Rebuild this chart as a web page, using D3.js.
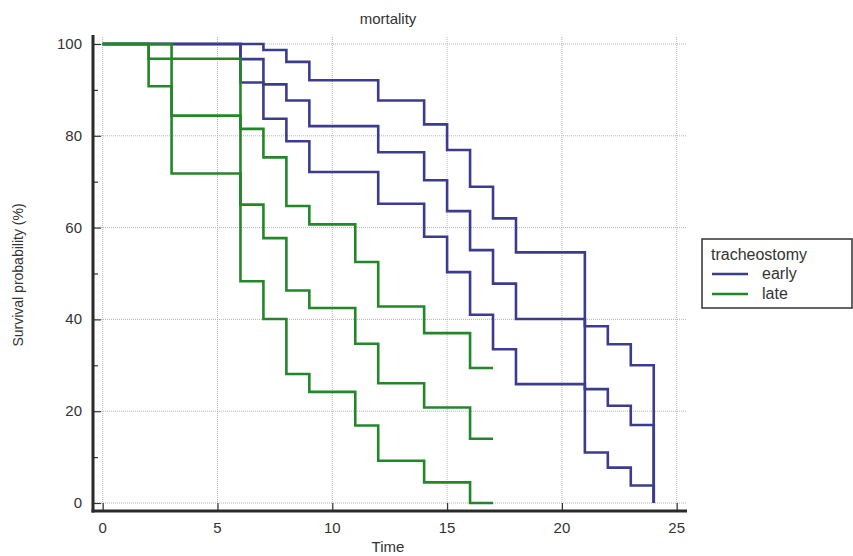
<!DOCTYPE html>
<html>
<head>
<meta charset="utf-8">
<script src="https://cdn.jsdelivr.net/npm/d3@7"></script>
<style>
  body { margin: 0; background: #fff; }
  text { font-family: "Liberation Sans", Arial, sans-serif; fill: #333; }
</style>
</head>
<body>
<script>
// Kaplan-Meier curves with confidence bands

var earlyTimes = [0, 6, 7, 8, 9, 12, 14, 15, 16, 17, 18, 21, 22, 23, 24];
var earlyUpper = [100, 100, 98.7, 96.1, 92.1, 87.7, 82.5, 76.9, 68.9, 62.0, 54.6, 38.5, 34.6, 30.0, 0];
var earlySurv  = [100, 96.7, 91.2, 87.7, 82.1, 76.4, 70.3, 63.6, 55.1, 47.8, 40.1, 24.8, 21.2, 17.0, 0];
var earlyLower = [100, 91.6, 83.7, 78.8, 72.1, 65.2, 58.0, 50.3, 41.0, 33.5, 25.9, 11.0, 7.7, 3.8, 0];

var lateTimes = [0, 2, 3, 6, 7, 8, 9, 11, 12, 14, 16, 17];
var lateUpper = [100, 100, 96.8, 81.5, 75.3, 64.7, 60.7, 52.5, 42.8, 37.0, 29.4, 29.4];
var lateSurv  = [100, 96.8, 84.4, 65.0, 57.7, 46.3, 42.5, 34.7, 26.1, 20.8, 14.0, 14.0];
var lateLower = [100, 90.8, 71.8, 48.3, 40.1, 28.1, 24.2, 16.9, 9.2, 4.5, 0, 0];

var xTicks = [0, 5, 10, 15, 20, 25];
var yTicks = [0, 20, 40, 60, 80, 100];
var yMinorTicks = [10, 30, 50, 70, 90];

var groups = ["early", "late"];
var groupColors = ["#3c3c8e", "#23872a"];

function init() {
    var w = 853;
    var h = 556;

    var svg = d3.select("body")
                .append("svg")
                .attr("width", w)
                .attr("height", h);

    var xScale = d3.scaleLinear().domain([0, 25]).range([102.7, 676.7]);
    var yScale = d3.scaleLinear().domain([0, 100]).range([503, 44]);

    var axisLeftX = 93;
    var axisBottomY = 511;

    // dotted grid
    svg.selectAll(".vgrid")
        .data(xTicks)
        .enter()
        .append("line")
        .attr("x1", function (d) { return xScale(d); })
        .attr("x2", function (d) { return xScale(d); })
        .attr("y1", 37)
        .attr("y2", axisBottomY)
        .attr("stroke", "#b5b5b5")
        .attr("stroke-width", 1)
        .attr("stroke-dasharray", "1,1");

    svg.selectAll(".hgrid")
        .data(yTicks)
        .enter()
        .append("line")
        .attr("x1", axisLeftX)
        .attr("x2", 686)
        .attr("y1", function (d) { return yScale(d); })
        .attr("y2", function (d) { return yScale(d); })
        .attr("stroke", "#b5b5b5")
        .attr("stroke-width", 1)
        .attr("stroke-dasharray", "1,1");

    // step curves
    var line = d3.line()
        .x(function (d) { return xScale(d[0]); })
        .y(function (d) { return yScale(d[1]); })
        .curve(d3.curveStepAfter);

    var curves = [
        [earlyTimes, earlyUpper, 0], [earlyTimes, earlySurv, 0], [earlyTimes, earlyLower, 0],
        [lateTimes, lateUpper, 1], [lateTimes, lateSurv, 1], [lateTimes, lateLower, 1]
    ];

    curves.forEach(function (c) {
        var pts = c[0].map(function (t, i) { return [t, c[1][i]]; });
        svg.append("path")
            .attr("d", line(pts))
            .attr("fill", "none")
            .attr("stroke", groupColors[c[2]])
            .attr("stroke-width", 2.6);
    });

    // Y axis (ticks point inward)
    var yAxis = d3.axisRight(yScale)
        .tickValues(yTicks)
        .tickSize(8)
        .tickFormat("");
    var gy = svg.append("g")
        .attr("transform", "translate(" + axisLeftX + ",0)")
        .call(yAxis);
    gy.select(".domain").remove();
    gy.selectAll(".tick line").attr("stroke", "#333").attr("stroke-width", 1.2);

    var yMinor = d3.axisRight(yScale)
        .tickValues(yMinorTicks)
        .tickSize(5)
        .tickFormat("");
    var gym = svg.append("g")
        .attr("transform", "translate(" + axisLeftX + ",0)")
        .call(yMinor);
    gym.select(".domain").remove();
    gym.selectAll(".tick line").attr("stroke", "#333").attr("stroke-width", 1.2);

    svg.selectAll(".ylab")
        .data(yTicks)
        .enter()
        .append("text")
        .attr("x", 82)
        .attr("y", function (d) { return yScale(d) + 5; })
        .attr("text-anchor", "end")
        .attr("font-size", "15px")
        .text(function (d) { return d; });

    // X axis (ticks point up)
    var xAxis = d3.axisTop(xScale)
        .tickValues(xTicks)
        .tickSize(8)
        .tickFormat("");
    var gx = svg.append("g")
        .attr("transform", "translate(0," + axisBottomY + ")")
        .call(xAxis);
    gx.select(".domain").remove();
    gx.selectAll(".tick line").attr("stroke", "#333").attr("stroke-width", 1.2);

    svg.selectAll(".xlab")
        .data(xTicks)
        .enter()
        .append("text")
        .attr("x", function (d) { return xScale(d); })
        .attr("y", 533)
        .attr("text-anchor", "middle")
        .attr("font-size", "15px")
        .text(function (d) { return d; });

    // heavy axis lines
    svg.append("line")
        .attr("x1", axisLeftX).attr("x2", axisLeftX)
        .attr("y1", 35).attr("y2", axisBottomY + 1.5)
        .attr("stroke", "#2a2a2a").attr("stroke-width", 3);
    svg.append("line")
        .attr("x1", axisLeftX - 1.5).attr("x2", 687)
        .attr("y1", axisBottomY).attr("y2", axisBottomY)
        .attr("stroke", "#2a2a2a").attr("stroke-width", 3);

    // titles
    svg.append("text")
        .attr("x", 388)
        .attr("y", 24)
        .attr("text-anchor", "middle")
        .attr("font-size", "15px")
        .text("mortality");

    svg.append("text")
        .attr("x", 388)
        .attr("y", 552)
        .attr("text-anchor", "middle")
        .attr("font-size", "15px")
        .text("Time");

    svg.append("text")
        .attr("transform", "translate(23,275) rotate(-90)")
        .attr("text-anchor", "middle")
        .attr("font-size", "14px")
        .text("Survival probability (%)");

    // legend
    var legend = svg.append("g").attr("transform", "translate(702,239)");
    legend.append("rect")
        .attr("x", 0).attr("y", 0)
        .attr("width", 150).attr("height", 69)
        .attr("fill", "#fff")
        .attr("stroke", "#333")
        .attr("stroke-width", 1.5);
    legend.append("text")
        .attr("x", 9).attr("y", 21)
        .attr("font-size", "16px")
        .text("tracheostomy");

    groups.forEach(function (g, i) {
        legend.append("line")
            .attr("x1", 10).attr("x2", 46)
            .attr("y1", 35 + i * 20).attr("y2", 35 + i * 20)
            .attr("stroke", groupColors[i])
            .attr("stroke-width", 2.6);
        legend.append("text")
            .attr("x", 60).attr("y", 40 + i * 20)
            .attr("font-size", "16px")
            .text(g);
    });
}

window.onload = init;
</script>
</body>
</html>
